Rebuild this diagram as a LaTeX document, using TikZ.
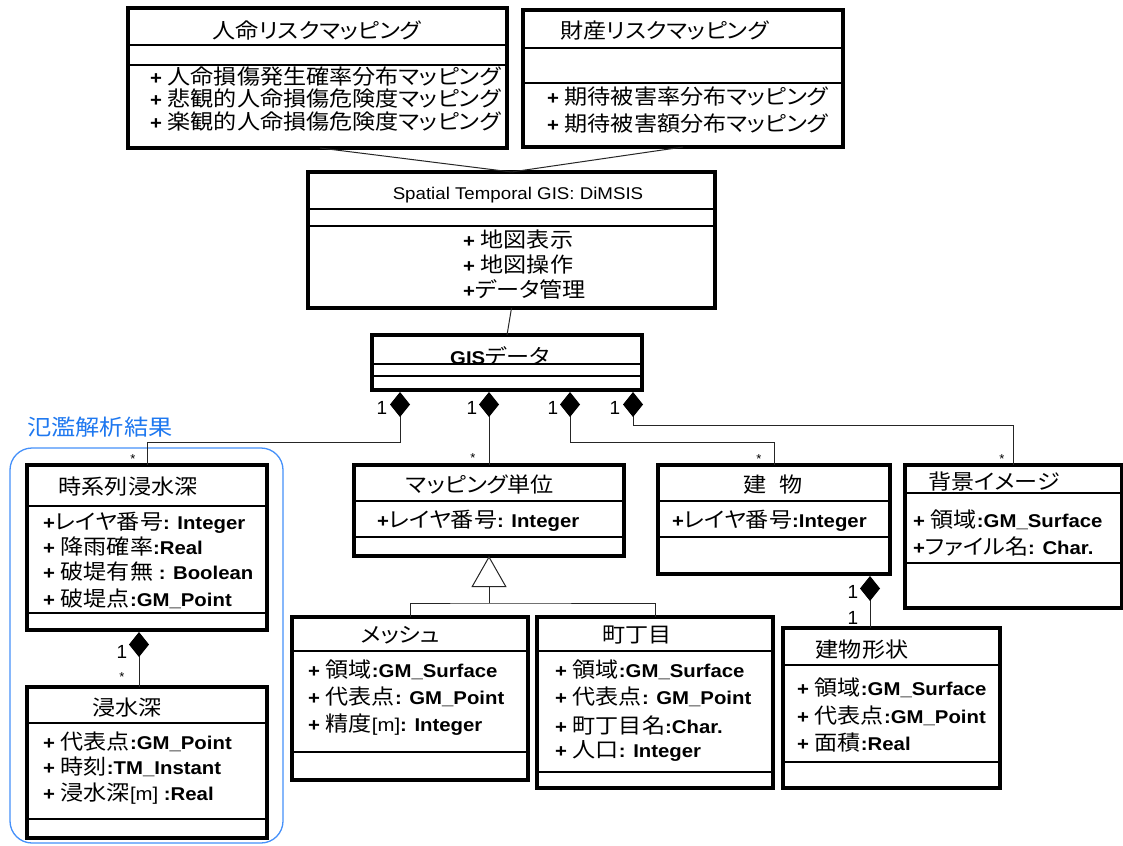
\documentclass[tikz,border=0pt]{standalone}
\usepackage{fontspec}
\usepackage{graphicx}
\usetikzlibrary{arrows.meta}
\setmainfont{Liberation Sans}
\newfontfamily\jpf{Noto Sans CJK JP}[RawFeature=+palt]
\newfontfamily\lat{Liberation Sans}
\newcommand\LB[1]{{\lat\bfseries\fontsize{18.5}{18.5}\selectfont #1}}
\newcommand\LR[1]{{\lat\fontsize{18.5}{18.5}\selectfont #1}}
\newcommand\SX[1]{\scalebox{1.1}[1]{#1}}
\definecolor{grpblue}{RGB}{70,145,250}
\definecolor{lblblue}{RGB}{30,120,240}

\tikzset{
 umlbox/.style={draw=black, line width=4.5pt, fill=white, inner sep=0pt, outer sep=0pt, anchor=north west},
 sepl/.style={line width=1.1pt, black},
 jtxt/.style={font=\jpf\fontsize{21}{21}\selectfont, inner sep=0pt, yshift=-7pt},
 ttl/.style={jtxt, anchor=base},
 attr/.style={jtxt, anchor=base west},
 conn/.style={line width=1pt, draw=black!85},
 comp/.style={conn, {Diamond[length=25pt,width=20pt,color=black,fill=black]}-},
 gen/.style={conn, -{Triangle[length=31pt,width=35pt,fill=white]}},
 one/.style={font=\lat\fontsize{19}{19}\selectfont, inner sep=0pt},
 many/.style={font=\lat\fontsize{13}{13}\selectfont, inner sep=0pt},
}

\newcommand\umlclass[7]{%
 \node[umlbox, minimum width=#4pt, minimum height=#5pt] (#1) at (#2,#3) {};
 \draw[sepl] (#2,#6) -- ++(#4,0);
 \draw[sepl] (#2,#7) -- ++(#4,0);
}
\newcommand\ttext[4]{\node[ttl] (#1) at (#2,#3) {\SX{#4}};}
\newcommand\atext[4]{\node[attr] (#1) at (#2,#3) {\SX{#4}};}

\begin{document}
\begin{tikzpicture}[x=1pt,y=-1pt]
\path[use as bounding box, fill=white] (0,0) rectangle (1123,845);

% group frame
\draw[grpblue, line width=1.3pt, rounded corners=22pt] (10,448) rectangle (283,843);
\node[font=\jpf\fontsize{22}{22}\selectfont, text=lblblue, anchor=base west, inner sep=0pt, yshift=-8pt] (grplabel) at (27,427) {\SX{氾濫解析結果}};

% classes
\umlclass{risk1}{128}{8}{379}{140}{45}{65}
\ttext{risk1t}{317}{32}{人命リスクマッピング}
\atext{risk1a}{150}{78}{\LB{+ }人命損傷発生確率分布マッピング}
\atext{risk1b}{150}{100}{\LB{+ }悲観的人命損傷危険度マッピング}
\atext{risk1c}{150}{123}{\LB{+ }楽観的人命損傷危険度マッピング}

\umlclass{risk2}{523}{10}{320}{137}{48}{83}
\atext{risk2t}{560}{32}{財産リスクマッピング}
\atext{risk2a}{547}{98}{\LB{+ }期待被害率分布マッピング}
\atext{risk2b}{547}{125}{\LB{+ }期待被害額分布マッピング}

\umlclass{dim}{308}{172}{407}{136}{209}{226}
\node[ttl, font=\lat\fontsize{17}{17}\selectfont] (dimt) at (518,193) {\SX{Spatial Temporal GIS: DiMSIS}};
\atext{dima}{463}{240}{\LB{+ }地図表示}
\atext{dimb}{463}{265}{\LB{+ }地図操作}
\atext{dimc}{463}{290}{\LB{+}データ管理}

\umlclass{gis}{372}{335}{270}{55}{364}{376}
\ttext{gist}{500}{357}{\LB{GIS}データ}

\umlclass{tsk}{27}{465}{240}{165}{506}{613}
\ttext{tskt}{128}{487}{時系列浸水深}
\atext{tska}{43}{522}{\LB{+}レイヤ番号\LB{: Integer}}
\atext{tskb}{43}{547}{\LB{+ }降雨確率\LB{:Real}}
\atext{tskc}{43}{572}{\LB{+ }破堤有無\LB{ : Boolean}}
\atext{tskd}{43}{599}{\LB{+ }破堤点\LB{:GM\_Point}}

\umlclass{sui}{27}{687}{240}{151}{723}{819}
\ttext{suit}{127}{708}{浸水深}
\atext{suia}{43}{742}{\LB{+ }代表点\LB{:GM\_Point}}
\atext{suib}{43}{767}{\LB{+ }時刻\LB{:TM\_Instant}}
\atext{suic}{43}{793}{\LB{+ }浸水深\LR{[m]}\LB{ :Real}}

\umlclass{map}{354}{465}{270}{91}{501}{537}
\ttext{mapt}{480}{485}{マッピング単位}
\atext{mapa}{377}{520}{\LB{+}レイヤ番号\LB{: Integer}}

\umlclass{mesh}{292}{617}{236}{163}{651}{752}
\ttext{mesht}{400}{635}{メッシュ}
\atext{mesha}{308}{670}{\LB{+ }領域\LB{:GM\_Surface}}
\atext{meshb}{308}{697}{\LB{+ }代表点\LB{: GM\_Point}}
\atext{meshc}{308}{724}{\LB{+ }精度\LR{[m]}\LB{: Integer}}

\umlclass{town}{537}{617}{236}{171}{651}{772}
\ttext{townt}{637}{635}{町丁目}
\atext{towna}{555}{670}{\LB{+ }領域\LB{:GM\_Surface}}
\atext{townb}{555}{697}{\LB{+ }代表点\LB{: GM\_Point}}
\atext{townc}{555}{726}{\LB{+ }町丁目名\LB{:Char.}}
\atext{townd}{555}{750}{\LB{+ }人口\LB{: Integer}}

\umlclass{bld}{658}{465}{232}{109}{501}{537}
\ttext{bldt}{773}{485}{建\hspace{12pt}物}
\atext{blda}{672}{520}{\LB{+}レイヤ番号\LB{:Integer}}

\umlclass{bg}{905}{465}{217}{143}{493}{563}
\ttext{bgt}{994}{482}{背景イメージ}
\atext{bga}{913}{520}{\LB{+ }領域\LB{:GM\_Surface}}
\atext{bgb}{913}{547}{\LB{+}ファイル名\LB{: Char.}}

\umlclass{shp}{783}{628}{217}{160}{665}{762}
\ttext{shpt}{862}{650}{建物形状}
\atext{shpa}{797}{688}{\LB{+ }領域\LB{:GM\_Surface}}
\atext{shpb}{797}{716}{\LB{+ }代表点\LB{:GM\_Point}}
\atext{shpc}{797}{743}{\LB{+ }面積\LB{:Real}}

% connectors
\coordinate (r1) at (320,148);
\coordinate (r2) at (683,147);
\draw[conn] (r1) -- (dim.north);
\draw[conn] (r2) -- (dim.north);
\draw[conn] (dim.south) -- (gis.north);

\coordinate (d1) at (400,392);
\coordinate (d2) at (489,392);
\coordinate (d3) at (570,392);
\coordinate (d4) at (633,392);
\draw[comp] (d1) -- ++(0,50) -| (tsk.north);
\draw[comp] (d2) -- (map.north);
\draw[comp] (d3) -- ++(0,50) -| (bld.north);
\draw[comp] (d4) -- ++(0,33) -| (bg.north);
\coordinate (d5) at (139,632);
\draw[comp] (d5) -- (d5 |- sui.north);
\coordinate (d6) at (870,576);
\draw[comp] (d6) -- (d6 |- shp.north);

\coordinate (g) at (489,603);
\draw[conn] (mesh.north) |- (g) -| (town.north);
\draw[gen] (g) -- (map.south);

% multiplicities
\node[one] (m1) at (382,408) {1};
\node[one] (m2) at (472,408) {1};
\node[one] (m3) at (553,408) {1};
\node[one] (m4) at (615,408) {1};
\node[one] (m5) at (122,652) {1};
\node[one] (m6) at (853,592) {1};
\node[one] (m7) at (853,618) {1};
\node[many] (s1) at (133,459) {*};
\node[many] (s2) at (473,458) {*};
\node[many] (s3) at (759,459) {*};
\node[many] (s4) at (1002,459) {*};
\node[many] (s5) at (122,677) {*};
\end{tikzpicture}
\end{document}
